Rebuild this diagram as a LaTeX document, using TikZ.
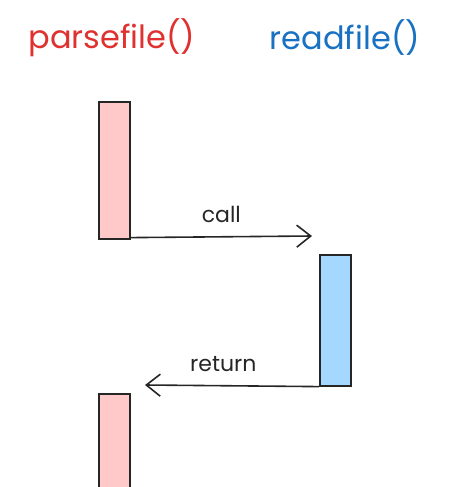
\documentclass[tikz,border=0pt]{standalone}
\usepackage{fontspec}
\setmainfont{Poppins}
\usetikzlibrary{arrows.meta}
\usetikzlibrary{positioning}
\definecolor{headred}{HTML}{E03131}
\definecolor{headblue}{HTML}{1971C2}
\definecolor{boxred}{HTML}{FFC9C9}
\definecolor{boxblue}{HTML}{A5D8FF}
\tikzset{
    actbox/.style={draw=black!85, line width=1.6pt, minimum width=31pt, inner sep=0pt, anchor=north west},
    msg/.style={line width=1.6pt, draw=black!85, -{Straight Barb[length=14pt,width=22pt,line width=1.6pt]}},
    msglabel/.style={font=\fontsize{22}{26}\selectfont, text=black!85}
}

\begin{document}
\begin{tikzpicture}[x=1pt,y=-1pt]
        \useasboundingbox (0,0) rectangle (462,487);
        \clip (0,0) rectangle (462,487);

        \node[text=headred, font=\fontsize{32}{38}\selectfont] (parsehead) at (112,38) {parsefile()};
        \node[text=headblue, font=\fontsize{32}{38}\selectfont] (readhead) at (345,38) {readfile()};

        \node[actbox, fill=boxred, minimum height=137pt] (parsebox) at (98,101) {};
        \node[actbox, fill=boxblue, minimum height=131pt] (readbox) at (319,254) {};
        \node[actbox, fill=boxred, minimum height=120pt] (parseboxb) at (98,393) {};

        \coordinate (callend) at (312,236);
        \coordinate (retend) at (145,385);

        \draw[msg] (parsebox.south east) ++(0,-2) -- (callend) node[midway, above=10pt, msglabel] {call};
        \draw[msg] (readbox.south west) -- (retend) node[pos=0.55, above=10pt, msglabel] {return};
    \end{tikzpicture}
\end{document}
